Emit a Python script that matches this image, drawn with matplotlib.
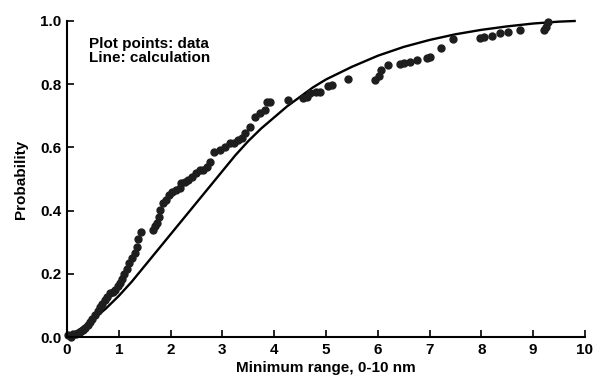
import matplotlib.pyplot as plt

plt.rcParams['font.family'] = ['Liberation Sans', 'DejaVu Sans']
plt.rcParams['font.weight'] = 'bold'

data_x = [0.02, 0.08, 0.12, 0.18, 0.25, 0.30, 0.35, 0.40, 0.44, 0.49, 0.54, 0.59, 0.64, 0.68,
          0.73, 0.78, 0.83, 0.88, 0.93, 0.98, 1.02, 1.06, 1.10, 1.15, 1.20, 1.25, 1.31, 1.35,
          1.38, 1.42, 1.67, 1.70, 1.73, 1.77, 1.80, 1.86, 1.91, 1.96, 2.02, 2.10, 2.18, 2.21,
          2.28, 2.34, 2.42, 2.50, 2.57, 2.63, 2.70, 2.76, 2.83, 2.95, 3.05, 3.15, 3.22, 3.31,
          3.38, 3.44, 3.53, 3.63, 3.72, 3.82, 3.86, 3.92, 4.27, 4.56, 4.64, 4.69, 4.80, 4.88,
          5.04, 5.11, 5.43, 5.95, 6.02, 6.07, 6.20, 6.42, 6.50, 6.62, 6.75, 6.95, 7.00, 7.23,
          7.46, 7.97, 8.05, 8.20, 8.36, 8.52, 8.75, 9.20, 9.25, 9.29]
data_y = [0.005, 0.0, 0.01, 0.01, 0.017, 0.022, 0.028, 0.038, 0.048, 0.058, 0.07, 0.083, 0.096,
          0.105, 0.117, 0.128, 0.138, 0.143, 0.149, 0.16, 0.17, 0.185, 0.20, 0.215, 0.233, 0.25,
          0.265, 0.285, 0.31, 0.333, 0.339, 0.35, 0.36, 0.38, 0.402, 0.423, 0.435, 0.449, 0.46,
          0.465, 0.47, 0.486, 0.49, 0.497, 0.505, 0.518, 0.528, 0.53, 0.539, 0.555, 0.587, 0.592,
          0.60, 0.613, 0.615, 0.623, 0.63, 0.644, 0.666, 0.697, 0.71, 0.718, 0.745, 0.745, 0.75,
          0.755, 0.76, 0.771, 0.776, 0.776, 0.794, 0.797, 0.815, 0.813, 0.825, 0.845, 0.861, 0.863,
          0.866, 0.871, 0.877, 0.883, 0.887, 0.913, 0.942, 0.945, 0.948, 0.953, 0.961, 0.964, 0.97,
          0.972, 0.98, 0.998]

# calculated curve
calc_x = [0, 0.25, 0.5, 0.75, 1.0, 1.25, 1.5, 1.75, 2.0, 2.25, 2.5, 2.75, 3.0, 3.25, 3.5,
          3.75, 4.0, 4.25, 4.5, 4.75, 5.0, 5.5, 6.0, 6.5, 7.0, 7.5, 8.0, 8.5, 9.0, 9.5, 9.8]
calc_y = [0, 0.025, 0.055, 0.09, 0.13, 0.175, 0.225, 0.275, 0.325, 0.375, 0.425, 0.475, 0.525,
          0.575, 0.62, 0.66, 0.695, 0.73, 0.76, 0.79, 0.815, 0.855, 0.89, 0.918, 0.94, 0.958,
          0.972, 0.983, 0.992, 0.998, 1.0]

fig = plt.figure(figsize=(5.96, 3.79), dpi=100)
ax = fig.add_axes([0.1124, 0.1108, 0.8691, 0.8338])

ax.plot(calc_x, calc_y, color='black', lw=1.7, clip_on=False)
ax.plot(data_x, data_y, 'o', color='#1e1e1e', ms=5, clip_on=False)

ax.set_xlim(0, 10)
ax.set_ylim(0, 1.0)
ax.set_xticks(range(0, 11))
ax.set_yticks([0.0, 0.2, 0.4, 0.6, 0.8, 1.0])
ax.set_yticklabels(['0.0', '0.2', '0.4', '0.6', '0.8', '1.0'])
ax.tick_params(direction='in', length=5, width=1.2, labelsize=11, pad=4)
for s in ['top', 'right']:
    ax.spines[s].set_visible(False)
for s in ['left', 'bottom']:
    ax.spines[s].set_linewidth(1.5)

ax.set_xlabel('Minimum range, 0-10 nm', fontsize=11, fontweight='bold', labelpad=3)
ax.set_ylabel('Probability', fontsize=11, fontweight='bold', labelpad=9)
ax.text(0.42, 0.95, 'Plot points: data\nLine: calculation', fontsize=11,
        fontweight='bold', va='top', ha='left', linespacing=1.05)

fig.savefig('out.png', dpi=100)
